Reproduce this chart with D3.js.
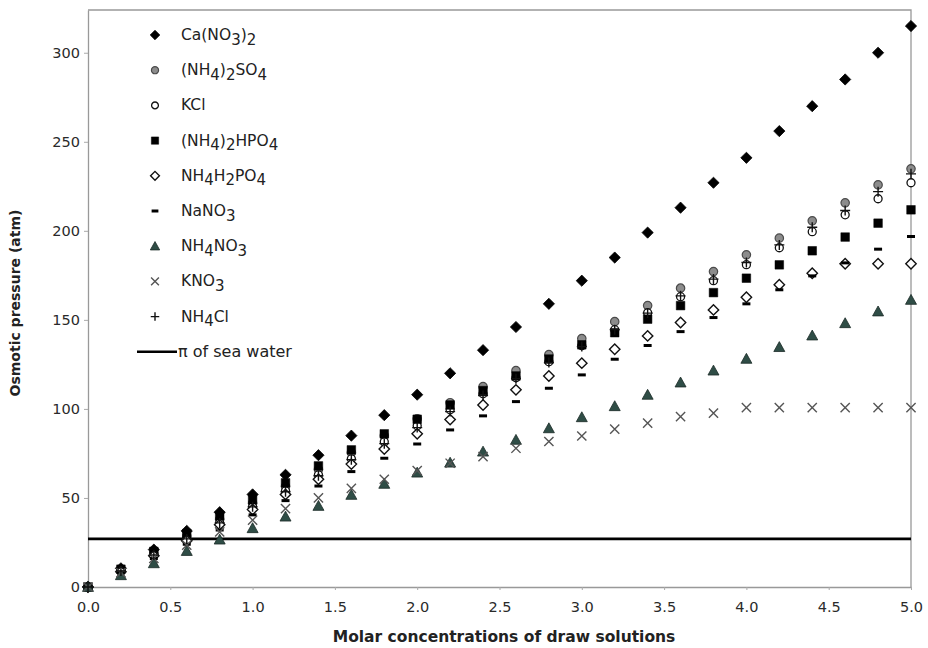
<!DOCTYPE html>
<html><head><meta charset="utf-8">
<script src="https://cdn.jsdelivr.net/npm/d3@7"></script>
<style>body{margin:0;background:#fff}</style>
</head><body><svg id="c" width="928" height="648"></svg>
<script>
// ---- data ----
const concentrations = [0,0.2,0.4,0.6,0.8,1.0,1.2,1.4,1.6,1.8,2.0,2.2,2.4,2.6,2.8,3.0,3.2,3.4,3.6,3.8,4.0,4.2,4.4,4.6,4.8,5.0];
const caNO3_2   = [0,10.5,21,31.5,42,52,63,74,85,96.5,108,120,133,146,159,172,185,199,213,227,241,256,270,285,300,315];
const nh4_2SO4  = [0,9.5,19,28.5,38,47,56.5,66,75.5,85,94.5,103.5,112.5,121.5,130.5,139.5,149,158,167.8,177.1,186.5,195.9,205.6,215.7,225.8,234.8];
const kcl       = [0,9,18,27,36,45,54,63,72,81.5,90.5,99.5,108.5,117.5,126.5,135.5,144.5,154,163,172,181,190.5,199.5,209,218,227];
const nh4_2HPO4 = [0,10,20,30,40,49,58.5,68,77,86,94.2,102.2,110.3,118.5,128,136,142.8,150.4,158,165.3,173.4,180.9,188.8,196.5,204.3,211.8];
const nh4H2PO4  = [0,8.5,17.5,26,35,43.5,52,60.5,69,77.5,86,94,102.2,110.7,118.5,125.7,133.5,141,148.5,155.6,162.7,169.7,176.2,181.5,181.5,181.5];
const naNO3     = [0,8,16,24,32,40.5,48.5,56.7,64.8,72.3,80.3,88.2,96.1,104.1,111.6,119.1,127.9,135.6,143.4,151.3,159,166.9,174.7,182,189.7,196.8];
const nh4NO3    = [0,6.6,13.3,20.2,26.6,33,39.5,45.5,51.7,57.9,64.2,69.8,76,82.6,89.1,95.3,101.5,107.9,114.8,121.5,128.1,134.7,141.2,148.1,154.7,161.2];
const kNO3      = [0,8,16,23.5,31,37.6,44,50,55.4,60.5,65.4,69.5,73.2,77.9,81.7,84.8,88.6,92,95.7,97.6,100.7,100.7,100.7,100.7,100.7,100.7];
const nh4Cl     = [0,9,18,27,36,45,53.5,62.5,71.5,80.5,89.5,98.5,107.5,117,126,135,144.5,153.8,163.5,172.9,182.2,192.1,202,211.4,222,232];
const seriesNames = ["Ca(NO3)2","(NH4)2SO4","KCl","(NH4)2HPO4","NH4H2PO4","NaNO3","NH4NO3","KNO3","NH4Cl"];
const seriesValues = [caNO3_2,nh4_2SO4,kcl,nh4_2HPO4,nh4H2PO4,naNO3,nh4NO3,kNO3,nh4Cl];
const seaWaterPressure = 27;
const seaWaterLabel = "π of sea water";
const yTicks = [0,50,100,150,200,250,300];
const xTicks = [0,0.5,1.0,1.5,2.0,2.5,3.0,3.5,4.0,4.5,5.0];
const xTitle = "Molar concentrations of draw solutions";
const yTitle = "Osmotic pressure (atm)";

// ---- styles ----
const markerStyles = [
  {shape:"diamond", size:5.6, fill:"#000", stroke:"#000", sw:0.8},
  {shape:"circle", size:4.2, fill:"#8c8c8c", stroke:"#4a4a4a", sw:1.2},
  {shape:"circle", size:4.0, fill:"#fff", stroke:"#111", sw:1.3},
  {shape:"square", size:4.3, fill:"#000", stroke:"#000", sw:0.5},
  {shape:"diamond", size:5.2, fill:"#fff", stroke:"#111", sw:1.4},
  {shape:"dash", size:4, fill:"#000", stroke:"none", sw:0},
  {shape:"triangle", size:5.5, fill:"#2f4d46", stroke:"#1c2b27", sw:0.8},
  {shape:"x", size:4.6, fill:"none", stroke:"#555", sw:1.4},
  {shape:"plus", size:5, fill:"none", stroke:"#111", sw:1.4}
];
function shapePath(shape, s){
  switch(shape){
    case "diamond": return `M0,${-s}L${s},0L0,${s}L${-s},0Z`;
    case "circle": return `M${-s},0A${s},${s} 0 1,0 ${s},0A${s},${s} 0 1,0 ${-s},0Z`;
    case "square": return `M${-s},${-s}H${s}V${s}H${-s}Z`;
    case "dash": return `M${-s},-1.5H${s}V1.5H${-s}Z`;
    case "triangle": return `M0,${-s}L${s},${s*0.8}L${-s},${s*0.8}Z`;
    case "x": return `M${-s},${-s}L${s},${s}M${-s},${s}L${s},${-s}`;
    case "plus": return `M${-s},0H${s}M0,${-s}V${s}`;
  }
}

const font = "'DejaVu Sans', Verdana, sans-serif";
const svg = d3.select("#c");
const pL = 88, pR = 911, pT = 10, pB = 587;
const x = d3.scaleLinear().domain([0,5]).range([pL,pR]);
const y = d3.scaleLinear().domain([0,324]).range([pB,pT]);

// plot border (top/right)
svg.append("path").attr("d",`M${pL},${pT}H${pR}V${pB}`).attr("fill","none").attr("stroke","#999").attr("stroke-width",1.3);

// axes
const ya = svg.append("g").attr("transform",`translate(${pL},0)`)
  .call(d3.axisLeft(y).tickValues(yTicks).tickSize(4).tickPadding(4).tickSizeOuter(0));
const xa = svg.append("g").attr("transform",`translate(0,${pB})`)
  .call(d3.axisBottom(x).tickValues(xTicks).tickSize(3).tickPadding(12).tickSizeOuter(0).tickFormat(d3.format(".1f")));
[ya,xa].forEach(g=>{
  g.select(".domain").attr("stroke","#999").attr("stroke-width",1.3);
  g.selectAll(".tick line").attr("stroke","#aaa");
  g.selectAll("text").attr("font-family",font).attr("font-size",14.5).attr("fill","#2a2a2a");
});

// sea water line
svg.append("line").attr("x1",pL).attr("x2",pR)
  .attr("y1",y(seaWaterPressure)).attr("y2",y(seaWaterPressure))
  .attr("stroke","#000").attr("stroke-width",2.6);

// series
seriesValues.forEach((vals,i)=>{
  const st = markerStyles[i];
  svg.append("g").selectAll("path").data(vals).join("path")
    .attr("transform",(d,j)=>`translate(${x(concentrations[j])},${y(d)})`)
    .attr("d",shapePath(st.shape,st.size))
    .attr("fill",st.fill).attr("stroke",st.stroke).attr("stroke-width",st.sw);
});

// legend
function addLabel(sel, label){
  const parts = label.match(/\d+|\D+/g);
  let sub = false;
  parts.forEach(p=>{
    if(/^\d+$/.test(p)){
      sel.append("tspan").attr("font-size",15).attr("dy",4.5).text(p);
      sub = true;
    } else {
      sel.append("tspan").attr("dy",sub?-4.5:0).text(p);
      sub = false;
    }
  });
}
const legY0 = 35, legDy = 35.2;
seriesNames.forEach((name,i)=>{
  const st = markerStyles[i];
  const yy = legY0 + i*legDy;
  svg.append("path").attr("transform",`translate(155,${yy})`)
    .attr("d",shapePath(st.shape,st.size*0.85))
    .attr("fill",st.fill).attr("stroke",st.stroke).attr("stroke-width",st.sw);
  const t = svg.append("text").attr("x",181).attr("y",yy+5)
    .attr("font-family",font).attr("font-size",15.5).attr("fill","#222");
  addLabel(t,name);
});
const seaY = legY0 + seriesNames.length*legDy;
svg.append("line").attr("x1",137).attr("x2",177).attr("y1",seaY).attr("y2",seaY)
  .attr("stroke","#000").attr("stroke-width",2.6);
svg.append("text").attr("x",178).attr("y",seaY+5).attr("font-family",font)
  .attr("font-size",16).attr("fill","#222").text(seaWaterLabel);

// axis titles
svg.append("text").attr("x",504).attr("y",642).attr("text-anchor","middle")
  .attr("font-family",font).attr("font-weight","bold").attr("font-size",15.5).attr("fill","#222").text(xTitle);
svg.append("text").attr("transform","translate(20,303) rotate(-90)").attr("text-anchor","middle")
  .attr("font-family",font).attr("font-weight","bold").attr("font-size",14).attr("fill","#222").text(yTitle);
</script>
</body></html>
